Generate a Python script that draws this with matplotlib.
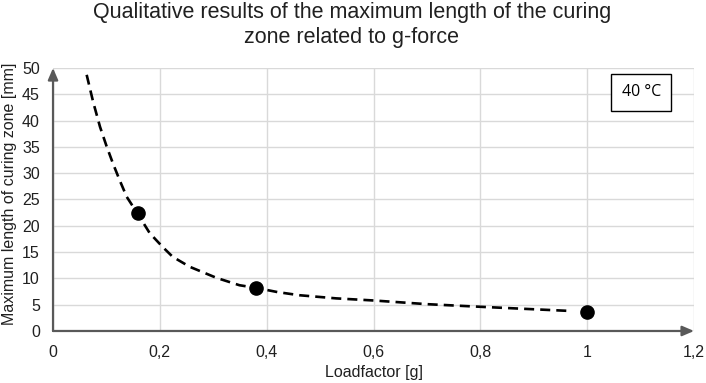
import matplotlib.pyplot as plt
from matplotlib.ticker import FuncFormatter

plt.rcParams['font.family'] = ['Liberation Sans', 'DejaVu Sans']

# measured points
load_g = [0.16, 0.38, 1.0]
length_mm = [22.4, 8.2, 3.6]

# dashed trend line
trend_x = [0.063, 0.075, 0.088, 0.1, 0.112, 0.125, 0.138, 0.159, 0.181, 0.205,
           0.224, 0.256, 0.306, 0.349, 0.38, 0.42, 0.461, 0.53, 0.6, 0.7, 0.8, 0.97]
trend_y = [48.7, 43.6, 38.8, 35.2, 31.9, 28.6, 25.5, 22.2, 18.6, 16.0,
           14.1, 12.2, 10.1, 8.7, 8.2, 7.4, 6.8, 6.2, 5.8, 5.1, 4.6, 3.8]

x_ticks = [0, 0.2, 0.4, 0.6, 0.8, 1.0, 1.2]
y_ticks = list(range(0, 55, 5))

fig = plt.figure(figsize=(7.06, 3.83), dpi=100)
ax = fig.add_axes([0.0751, 0.1358, 0.908, 0.6867])

ax.plot(trend_x, trend_y, color='black', lw=1.9, ls=(0, (3.8, 2.3)), zorder=3)
ax.plot(load_g, length_mm, 'o', color='black', ms=9.5, zorder=4)

ax.set_xlim(0, 1.2)
ax.set_ylim(0, 50)
ax.set_xticks(x_ticks)
ax.set_yticks(y_ticks)
ax.xaxis.set_major_formatter(FuncFormatter(lambda v, p: ('%g' % round(v, 1)).replace('.', ',')))
ax.tick_params(length=0, labelsize=11.5, colors='#202020')
ax.tick_params(axis='y', pad=9.5)
ax.tick_params(axis='x', pad=10)
ax.grid(True, color='#d9d9d9', lw=1)
for s in ax.spines.values():
    s.set_visible(False)

# axes with arrow heads
arrow = dict(arrowstyle='-|>,head_length=0.7,head_width=0.3', color='#595959', lw=1.6,
             shrinkA=0, shrinkB=0)
ax.annotate('', xy=(1.2, 0), xytext=(0, 0), arrowprops=arrow, annotation_clip=False, zorder=5)
ax.annotate('', xy=(0, 50), xytext=(0, 0), arrowprops=arrow, annotation_clip=False, zorder=5)

ax.text(1.101, 45.4, '40 °C', fontsize=11.5, family=['Open Sans', 'DejaVu Sans'],
        ha='center', va='center',
        bbox=dict(boxstyle='square,pad=0.65', fc='white', ec='black', lw=1))

fig.text(374 / 706, 1 - 373 / 383, 'Loadfactor [g]', ha='center', va='center',
         fontsize=11.5, color='#202020')
fig.text(10 / 706, 1 - 194 / 383, 'Maximum length of curing zone [mm]', ha='center',
         va='center', rotation=90, fontsize=11.5, color='#202020')
fig.text(352 / 706, 1 - 25 / 383,
         'Qualitative results of the maximum length of the curing\nzone related to g-force',
         ha='center', va='center', fontsize=15.5, linespacing=1.2, color='#202020')

fig.savefig('out.png', dpi=100)
